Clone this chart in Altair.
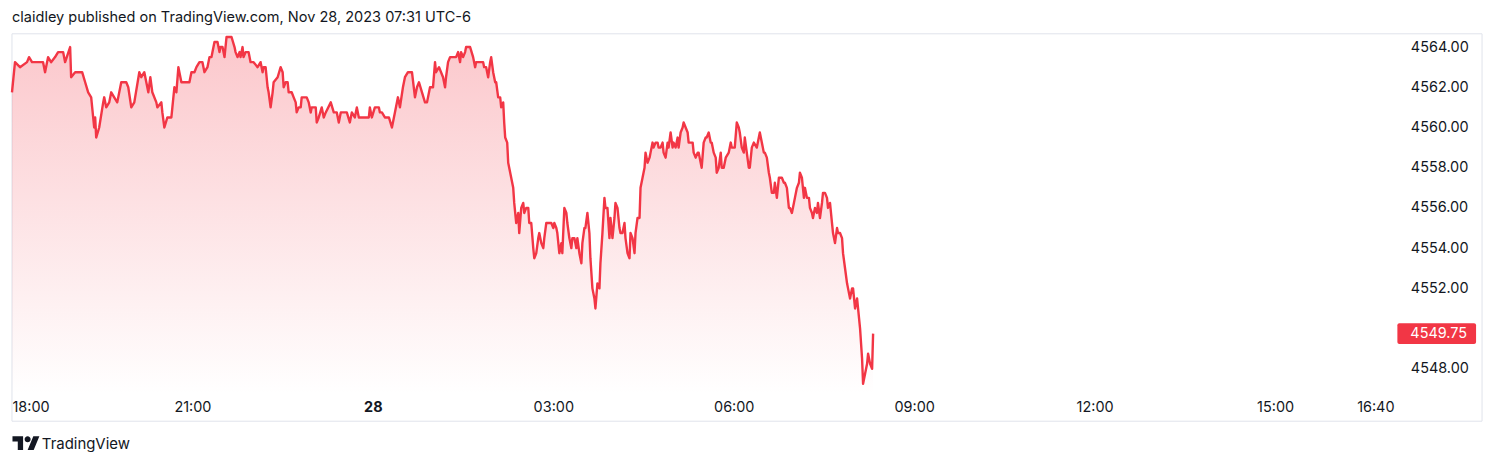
import altair as alt
import pandas as pd

# minutes elapsed since 18:00 (Nov 27, UTC-6)
minutes = [
    0, 3, 8, 15, 17, 20, 26, 31, 33, 36, 39, 43, 46, 51, 53, 58, 59, 63, 70, 73, 76, 79, 82, 83, 84, 87, 91, 92, 94, 97,
    99, 102, 105, 109, 114, 116, 119, 122, 127, 129, 132, 136, 138, 140, 144,
    145, 149, 150, 152, 155, 159, 160, 162, 164, 166, 169, 177, 179, 182, 184, 187, 190, 192, 195, 197,
    199, 200, 202, 205, 207, 208, 210, 212, 214, 219, 222, 223, 225, 227, 228, 230, 231, 233, 236, 238,
    241, 245, 248, 250, 251, 253, 255, 256, 258, 260, 261, 265, 268, 270, 271,
    273, 275, 276, 279, 281, 283, 284, 286, 288, 289, 294, 296, 298, 299, 303, 304, 306, 309, 311, 313,
    318, 321, 324, 326, 328, 329, 334, 337, 339, 342, 344, 346, 349, 356, 357, 359, 362, 366, 367, 369,
    372, 376, 379, 382, 385, 387, 390, 392, 395, 399,
    402, 404, 406, 409, 412, 414, 417, 420, 422, 423, 426, 428, 430, 432, 433, 435, 437, 440, 443, 445,
    447, 448, 450, 452, 453, 457, 460, 462, 463, 470, 471, 473, 475, 477, 478, 480, 482, 483, 485,
    487, 488, 490, 491, 492, 494, 495, 496, 498, 500,
    501, 503, 505, 506, 508, 510, 511, 513, 515, 516, 518, 520, 521, 523, 525, 526, 528, 530, 531, 533,
    538, 540, 541, 543, 544, 546, 548, 549, 551, 553, 554, 556, 558, 559, 561, 563, 564, 566, 568, 569,
    571, 572, 574, 576, 577, 579, 581, 582, 584, 586,
    587, 589, 591, 592, 594, 596, 597, 599, 601, 602, 604, 606, 607, 609, 611, 612, 614, 616, 617, 619,
    621, 622, 624, 626, 627, 629, 631, 632, 634, 636, 637, 639, 640, 642, 644, 645, 647, 649, 650, 652,
    654, 655, 657, 659, 660, 662, 664, 665, 667, 669,
    670, 672, 674, 675, 679, 680, 682, 684, 685, 687, 688, 690, 692, 693, 695, 697, 698, 700, 702, 703,
    705, 707, 708, 710, 712, 715, 717, 718, 721, 723, 725, 726, 728, 730, 731, 733, 735, 736, 738, 740,
    743, 745, 746, 748, 750, 751, 753, 755, 756, 758,
    760, 761, 763, 765, 768, 770, 771, 773, 775, 776, 778, 780, 781, 783, 785, 786, 788, 790, 791, 793,
    795, 796, 798, 799, 801, 803, 804, 806, 808, 809, 811, 813, 814, 816, 818, 819, 821, 823, 824, 826,
    828, 829, 831, 833, 834, 836, 838, 839, 841, 843, 844, 846, 848, 849, 851, 853, 854, 856, 858, 859,
]

prices = [
    4561.75, 4563.25, 4563.0, 4563.25, 4563.5, 4563.25, 4563.25, 4563.25, 4562.75, 4563.5,
    4563.25, 4563.5, 4563.75, 4563.75, 4563.25, 4564.0, 4562.5, 4562.75, 4562.75, 4562.25,
    4561.75, 4561.5, 4560.0, 4560.5, 4559.5, 4560.0, 4561.25, 4561.5, 4561.0, 4561.25,
    4561.75, 4561.5, 4561.25, 4562.25, 4562.25, 4562.0, 4561.0, 4561.25, 4562.75, 4562.5,
    4562.75, 4561.75, 4562.5, 4561.75, 4561.25,
    4561.0, 4561.25, 4560.75, 4560.0, 4560.5, 4560.5, 4561.0, 4562.0, 4561.75, 4563.0,
    4562.25, 4562.25, 4562.75, 4562.75, 4563.0, 4563.25, 4563.25, 4562.75, 4563.0, 4563.5,
    4563.5, 4563.75, 4564.25, 4564.25, 4563.75, 4564.0, 4564.0, 4563.5, 4564.5, 4564.5,
    4564.0, 4563.75, 4563.5, 4563.75, 4563.5, 4564.0, 4563.5, 4563.75, 4563.75, 4563.25,
    4563.25, 4563.0, 4563.25, 4562.75, 4563.0, 4563.0, 4562.0, 4561.75, 4561.0, 4561.75,
    4562.25, 4562.5, 4563.0, 4562.75, 4562.0,
    4562.25, 4562.25, 4561.75, 4561.75, 4561.5, 4561.25, 4560.75, 4561.0, 4561.0, 4561.5,
    4561.5, 4561.25, 4560.75, 4561.0, 4561.0, 4560.25, 4560.5, 4561.0, 4560.5, 4560.75,
    4561.25, 4560.75, 4560.75, 4560.25, 4560.75, 4560.75, 4560.75, 4560.25, 4560.75, 4560.5,
    4561.0, 4560.5, 4560.5, 4560.5, 4561.0, 4560.5, 4561.0, 4561.0, 4560.75, 4560.75,
    4560.5, 4560.5, 4560.0, 4560.75, 4561.5, 4561.0, 4562.0, 4562.5, 4562.75, 4562.75,
    4561.5, 4562.0, 4562.25, 4561.75, 4561.25, 4561.25, 4562.0, 4562.0, 4563.25, 4562.75,
    4563.0, 4562.75, 4562.5, 4562.0, 4562.5, 4563.25, 4563.5, 4563.5, 4563.5, 4563.75,
    4563.25, 4563.75, 4563.5, 4563.75, 4564.0, 4564.0, 4563.5, 4563.0, 4563.25,
    4563.25, 4563.0, 4563.0, 4562.5, 4563.25, 4563.5, 4562.75, 4562.25, 4562.25, 4561.5,
    4561.5, 4561.0, 4561.25, 4560.25, 4559.5, 4559.25, 4558.25, 4558.0, 4557.5, 4557.0,
    4556.25, 4555.25, 4555.75, 4554.75, 4556.0, 4556.25, 4555.75, 4556.0, 4556.0, 4555.25,
    4555.25, 4554.0, 4553.5, 4553.75, 4554.5, 4554.75, 4554.25, 4554.0, 4554.5, 4555.25,
    4555.25, 4555.0, 4555.25, 4555.0, 4554.75, 4553.75, 4554.25, 4553.75, 4556.0, 4555.75,
    4555.25, 4554.5, 4554.0, 4554.5, 4554.5, 4554.0, 4554.5, 4553.75, 4553.25, 4554.25,
    4555.0, 4555.0, 4555.75, 4554.75, 4553.5, 4552.0, 4551.5, 4551.0, 4552.25, 4552.0,
    4553.25, 4554.75, 4556.5, 4556.0, 4556.0, 4554.5, 4555.5, 4554.5, 4555.5, 4556.25,
    4556.0, 4555.0, 4554.75, 4554.75, 4555.25, 4554.5, 4553.75, 4553.5, 4554.75, 4554.5,
    4553.75, 4554.75, 4555.5, 4555.5, 4557.0, 4557.5, 4558.0, 4558.75, 4558.25, 4558.5,
    4558.75, 4559.25, 4559.0, 4559.25, 4559.25, 4559.0, 4559.0, 4559.25, 4558.75, 4558.5,
    4559.25, 4559.0, 4559.75, 4559.0, 4559.25, 4559.0, 4559.5, 4559.0, 4559.75, 4560.0,
    4560.25, 4560.0, 4559.75, 4559.25, 4559.25, 4558.75, 4558.5, 4558.75, 4558.75, 4558.25,
    4558.0, 4559.25, 4559.5, 4559.5, 4559.75, 4559.25, 4559.25, 4558.75, 4558.5, 4557.75,
    4558.0, 4558.75, 4558.0, 4558.0, 4558.5, 4558.75, 4559.25, 4559.0, 4559.0, 4560.25,
    4560.0, 4559.75, 4559.0, 4558.75, 4559.5, 4558.75, 4558.0, 4558.0, 4559.0, 4559.25,
    4559.0, 4559.5, 4559.75, 4559.25, 4558.75, 4558.75, 4558.5, 4557.75, 4557.5, 4556.75,
    4556.75, 4557.25, 4556.5, 4557.5, 4557.5, 4557.25, 4557.25, 4557.0, 4556.0, 4556.0,
    4555.75, 4556.25, 4556.5, 4557.0, 4557.25, 4557.75, 4557.5, 4556.5, 4557.0, 4556.5,
    4556.5, 4556.0, 4555.75, 4555.5, 4556.0, 4555.75, 4556.25, 4555.5, 4556.25, 4556.75,
    4556.75, 4556.5, 4556.0, 4556.25, 4555.25, 4554.75, 4554.25, 4555.0, 4554.75, 4554.75,
    4554.5, 4553.75, 4553.0, 4552.25, 4552.0, 4551.5, 4552.0, 4552.0, 4551.0, 4551.5,
    4551.0, 4550.0, 4548.5, 4547.25, 4547.75, 4548.25, 4548.75, 4548.25, 4548.0, 4549.75,
]

assert len(minutes) == len(prices), (len(minutes), len(prices))

tick_minutes = [0, 180, 360, 540, 720, 900, 1080, 1260, 1360]
tick_labels = ["18:00", "21:00", "28", "03:00", "06:00", "09:00", "12:00", "15:00", "16:40"]
price_ticks = [4548, 4552, 4554, 4556, 4558, 4560, 4562, 4564]
x_domain = [0, 1380]
y_domain = [4546.73, 4564.66]

header_text = "claidley published on TradingView.com, Nov 28, 2023 07:31 UTC-6"
brand_text = "TradingView"

RED = "#f23645"
INK = "#131722"
FONT = "Inter"

df = pd.DataFrame({"m": minutes, "price": prices})
last_df = df.tail(1).assign(label=lambda d: d["price"].map(lambda v: f"{v:.2f}"))

label_expr = "''"
for v, lab in reversed(list(zip(tick_minutes, tick_labels))):
    label_expr = f"datum.value == {v} ? '{lab}' : ({label_expr})"

x_scale = alt.Scale(domain=x_domain, nice=False, zero=False)
x_enc = alt.X(
    "m:Q",
    scale=x_scale,
    axis=alt.Axis(
        values=tick_minutes,
        labelExpr=label_expr,
        title=None,
        grid=False,
        ticks=False,
        domain=False,
        labelFont=FONT,
        labelFontSize=14.5,
        labelColor=INK,
        labelPadding=13,
        labelBaseline="middle",
        labelFlush=True,
        labelFontWeight={"condition": {"test": "datum.value == 360", "value": "bold"}, "value": "normal"},
    ),
)
y_scale = alt.Scale(domain=y_domain, nice=False, zero=False)
y_enc = alt.Y(
    "price:Q",
    scale=y_scale,
    axis=alt.Axis(
        orient="right",
        values=price_ticks,
        format=".2f",
        title=None,
        grid=False,
        ticks=False,
        domain=False,
        labelFont=FONT,
        labelFontSize=14.5,
        labelColor=INK,
        labelPadding=15,
        labelAlign="left",
        labelBaseline="middle",
    ),
)

area = alt.Chart(df).mark_area(
    color=alt.Gradient(
        gradient="linear",
        stops=[
            alt.GradientStop(color="rgba(242,54,69,0.28)", offset=0),
            alt.GradientStop(color="rgba(242,54,69,0.0)", offset=1),
        ],
        x1=1, x2=1, y1=0, y2=1,
    ),
    interpolate="linear",
).encode(x=x_enc, y=y_enc, y2=alt.datum(y_domain[0]))

line = alt.Chart(df).mark_line(color=RED, strokeWidth=2.4, strokeJoin="round").encode(
    x=alt.X("m:Q", scale=x_scale),
    y=alt.Y("price:Q", scale=y_scale),
)

one = alt.Data(values=[{}])

frame = alt.Chart(one).mark_rect(fillOpacity=0, stroke="#e0e3eb", strokeWidth=1).encode(
    x=alt.value(0), x2=alt.value(1476), y=alt.value(0), y2=alt.value(389)
)

price_box = alt.Chart(last_df).mark_rect(color=RED, cornerRadius=2, yOffset=-10.5, y2Offset=10.5).encode(
    x=alt.value(1391), x2=alt.value(1470),
    y=alt.Y("price:Q", scale=y_scale), y2="price:Q",
)
price_text = alt.Chart(last_df).mark_text(
    color="white", font=FONT, fontSize=14.5, align="left", baseline="middle"
).encode(x=alt.value(1404), y=alt.Y("price:Q", scale=y_scale), text="label:N")

header = alt.Chart(one).mark_text(
    text=header_text, font=FONT, fontSize=14.6, color=INK, align="left", baseline="middle"
).encode(x=alt.value(0), y=alt.value(-16))

logo_path = (
    "M-0.211,0.507 L-0.606,0.507 L-0.606,-0.113 L-1,-0.113 L-1,-0.507 L-0.211,-0.507 Z "
    "M0.577,0.507 L0.127,0.507 L0.549,-0.507 L1,-0.507 Z "
    "M0.352,-0.282 A0.225,0.225 0 1 1 -0.098,-0.282 A0.225,0.225 0 1 1 0.352,-0.282 Z"
)
logo = alt.Chart(one).mark_point(shape=logo_path, filled=True, size=729, color=INK, opacity=1).encode(
    x=alt.value(14), y=alt.value(411)
)
brand = alt.Chart(one).mark_text(
    text=brand_text, font=FONT, fontSize=15, color=INK, align="left", baseline="middle"
).encode(x=alt.value(30), y=alt.value(412))

chart = alt.layer(frame, area, line, price_box, price_text, header, logo, brand).properties(
    width=1389,
    height=362,
    autosize=alt.AutoSizeParams(type="none"),
    padding={"left": 4, "top": 25, "right": 97, "bottom": 57},
    background="white",
).configure_view(stroke=None)

chart.save("out.html", embed_options={"renderer": "svg", "actions": False})
